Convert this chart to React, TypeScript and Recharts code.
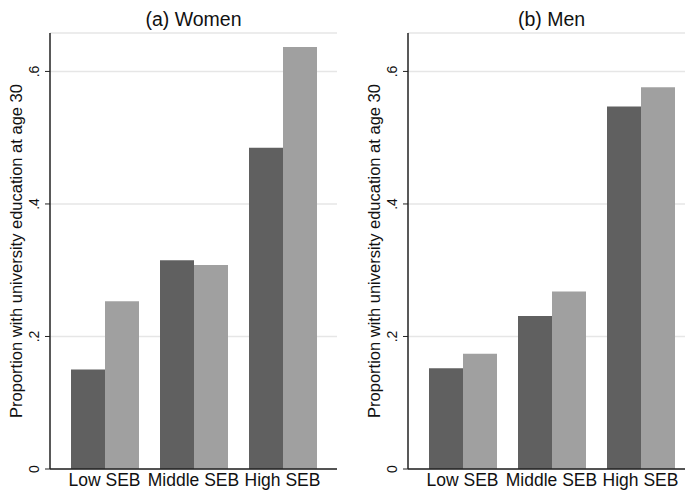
import { BarChart, Bar, XAxis, YAxis, CartesianGrid } from "recharts";

const categories = ["Low SEB", "Middle SEB", "High SEB"];
const womenDark = [0.15, 0.315, 0.485];
const womenLight = [0.253, 0.308, 0.637];
const menDark = [0.152, 0.231, 0.547];
const menLight = [0.174, 0.268, 0.576];
const yTicks = [0, 0.2, 0.4, 0.6];
const yLabel = "Proportion with university education at age 30";

const women = categories.map((cat, i) => ({ cat, a: womenDark[i], b: womenLight[i] }));
const men = categories.map((cat, i) => ({ cat, a: menDark[i], b: menLight[i] }));

const FONT = "'Liberation Sans', Arial, Helvetica, sans-serif";

const fmt = (v: number) => (v === 0 ? "0" : String(v).replace(/^0/, ""));

const XTick = ({ x, y, payload }: any) => (
  <text x={x} y={y} dy={16.5} textAnchor="middle" fontSize={17.5} fill="#111" fontFamily={FONT}>
    {payload.value}
  </text>
);

const YTick = ({ x, y, payload }: any) => (
  <text
    x={x}
    y={y}
    transform={`rotate(-90, ${x}, ${y})`}
    textAnchor="middle"
    fontSize={14}
    fill="#111"
    fontFamily={FONT}
  >
    {fmt(payload.value)}
  </text>
);

function Panel({ data }: { data: any[] }) {
  return (
    <BarChart
      width={345}
      height={490}
      data={data}
      margin={{ top: 33, right: 8, bottom: 0, left: 0 }}
      barCategoryGap={11}
      barGap={0}
    >
      <CartesianGrid vertical={false} stroke="#e6e6e6" strokeWidth={1.5} />
      <XAxis
        dataKey="cat"
        height={21}
        padding={{ left: 10, right: 10 }}
        tickSize={0}
        tickMargin={0}
        tickLine={false}
        tick={<XTick />}
        axisLine={{ stroke: "#222", strokeWidth: 1.5 }}
      />
      <XAxis
        xAxisId="top"
        dataKey="cat"
        orientation="top"
        height={0}
        tick={false}
        tickLine={false}
        axisLine={{ stroke: "#555", strokeWidth: 1.5 }}
      />
      <YAxis
        width={50}
        domain={[0, 0.658]}
        ticks={yTicks}
        tickSize={5}
        tickMargin={6}
        tickLine={{ stroke: "#222" }}
        tick={<YTick />}
        axisLine={{ stroke: "#222", strokeWidth: 1.5 }}
        label={{
          content: () => (
            <text
              transform="translate(22, 251) rotate(-90)"
              textAnchor="middle"
              fontSize={16.5}
              fill="#111"
              fontFamily={FONT}
            >
              {yLabel}
            </text>
          ),
        }}
      />
      <YAxis
        yAxisId="r"
        orientation="right"
        width={0}
        domain={[0, 0.658]}
        tick={false}
        tickLine={false}
        axisLine={{ stroke: "#555", strokeWidth: 1.5 }}
      />
      <Bar dataKey="a" fill="#606060" isAnimationActive={false} />
      <Bar dataKey="b" fill="#a0a0a0" isAnimationActive={false} />
    </BarChart>
  );
}

export default function App() {
  return (
    <div
      style={{
        position: "absolute",
        left: 0,
        top: 0,
        width: 685,
        height: 490,
        overflow: "hidden",
        background: "#fff",
        fontFamily: FONT,
      }}
    >
      <div style={{ position: "absolute", left: 0, top: 0 }}>
        <Panel data={women} />
      </div>
      <div style={{ position: "absolute", left: 358, top: 0 }}>
        <Panel data={men} />
      </div>
      <svg
        width={685}
        height={490}
        style={{ position: "absolute", left: 0, top: 0, pointerEvents: "none" }}
      >
        <text x={193.5} y={25.5} textAnchor="middle" fontSize={19.5} fill="#111" fontFamily={FONT}>
          (a) Women
        </text>
        <text x={551.5} y={25.5} textAnchor="middle" fontSize={19.5} fill="#111" fontFamily={FONT}>
          (b) Men
        </text>
      </svg>
    </div>
  );
}
